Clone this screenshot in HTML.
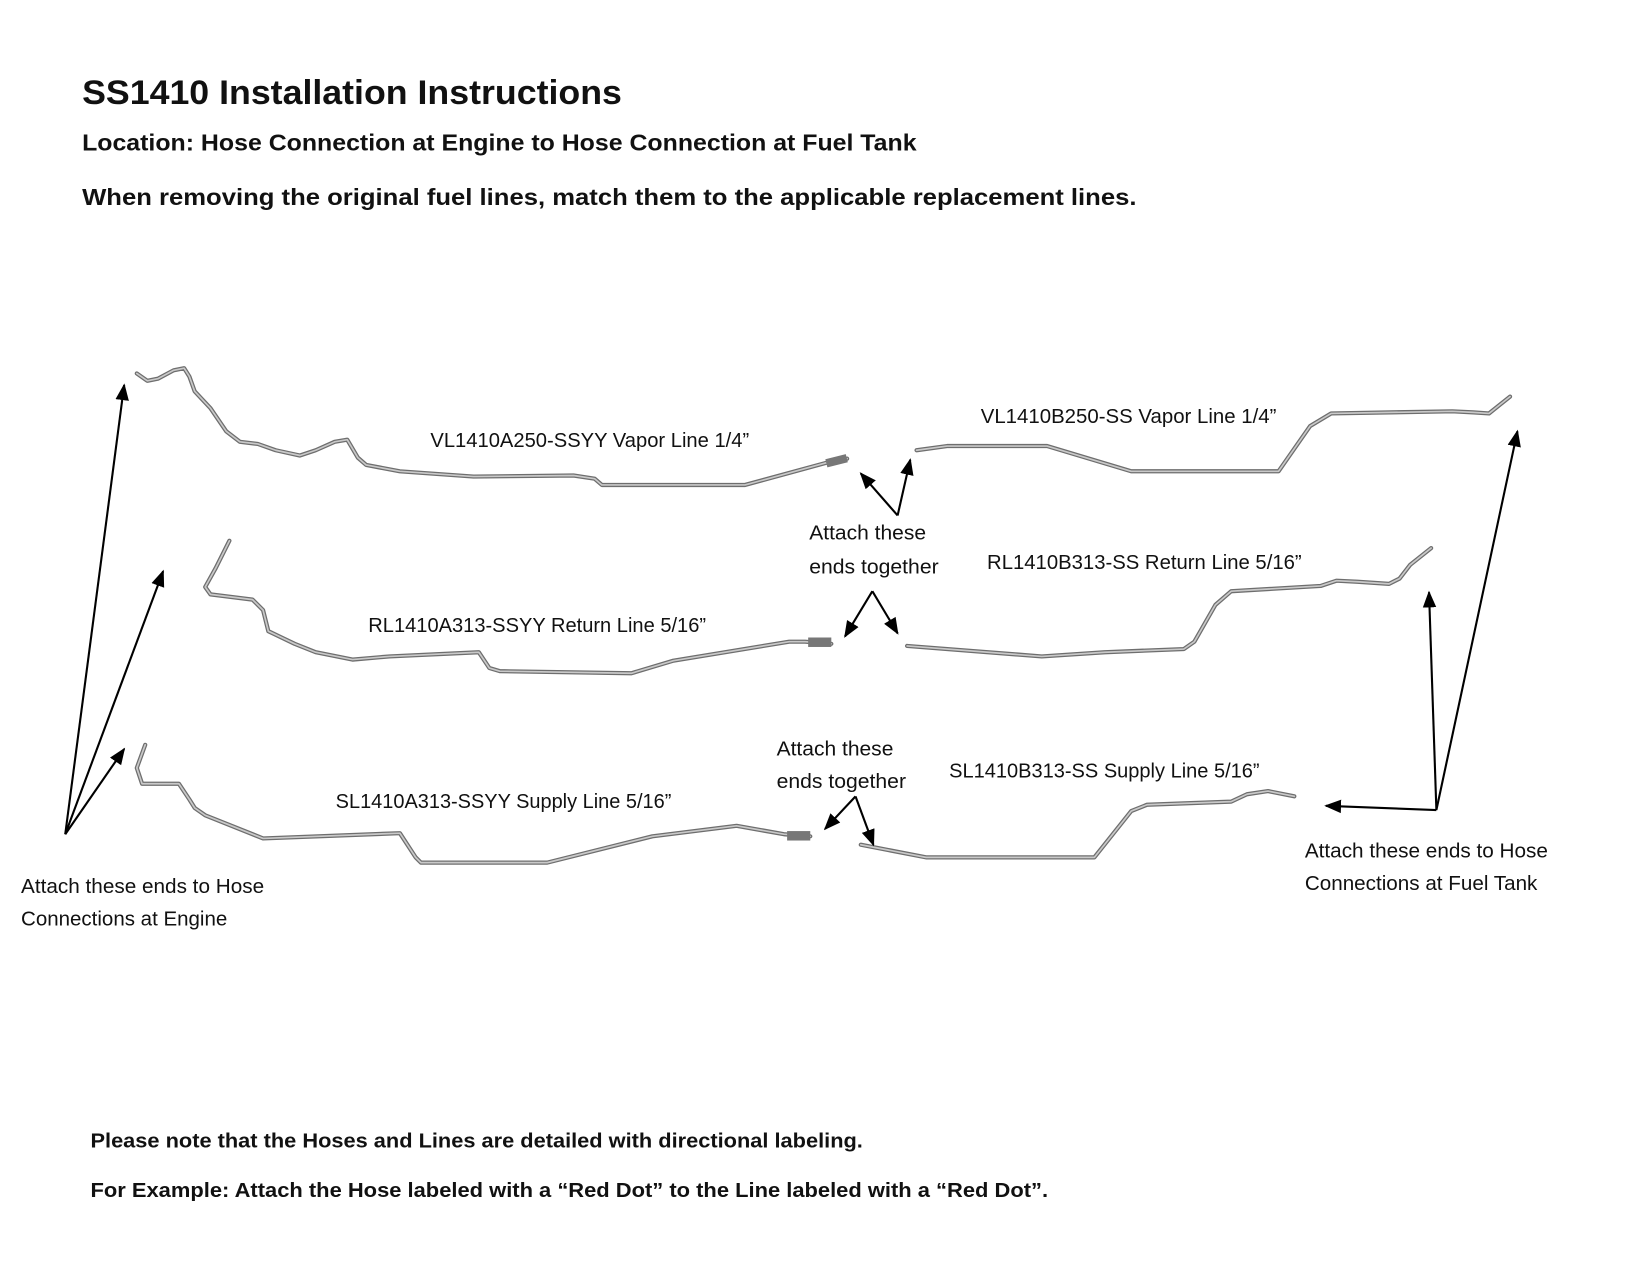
<!DOCTYPE html>
<html><head><meta charset="utf-8"><style>
html,body{margin:0;padding:0;background:#fff;}
svg{display:block;}
text{font-family:"Liberation Sans",sans-serif;fill:#111;}
.b{font-weight:bold;}
.p{fill:none;stroke:#6e6e6e;stroke-width:4;stroke-linejoin:round;stroke-linecap:round;}
.pi{fill:none;stroke:#c9c9c9;stroke-width:1.6;stroke-linejoin:round;stroke-linecap:round;}
.a{stroke:#000;stroke-width:2;fill:none;}
</style></head><body>
<svg width="1650" height="1275" viewBox="0 0 1568 1212" preserveAspectRatio="none" xmlns="http://www.w3.org/2000/svg">
<defs><marker id="ah" viewBox="0 0 10 10" refX="9" refY="5" markerWidth="8" markerHeight="8" orient="auto"><path d="M0,1 L10,5 L0,9 z" fill="#000"/></marker>
<g id="pipes" fill="none">
<polyline id="va" fill="none" points="130,355 140,362 150,360 165,352 175,350 180,358 185,372 200,388 215,410 228,420 245,422 262,428 285,433 300,428 318,420 330,418 340,435 348,442 380,448 450,453 545,452 565,455 572,461 708,461 785,440 805,436"/>
<polyline id="vb" fill="none" points="871,428 900,424 995,424 1075,448 1215,448 1245,405 1265,393 1380,391 1400,392 1415,393 1425,385 1435,377"/>
<polyline id="ra" fill="none" points="218,514 205,540 195,558 200,565 240,570 250,580 255,600 280,612 300,620 335,627 370,624 455,620 465,635 475,638 600,640 640,628 750,610 765,610 790,612"/>
<polyline id="rb" fill="none" points="862,614 990,624 1050,620 1125,617 1135,610 1155,575 1170,562 1255,557 1270,552 1290,553 1320,555 1330,550 1340,537 1360,521"/>
<polyline id="sa" fill="none" points="138,708 130,730 135,745 170,745 180,760 185,768 195,775 250,797 380,792 395,815 400,820 520,820 620,795 700,785 745,793 770,795"/>
<polyline id="sb" fill="none" points="818,803 880,815 1040,815 1075,771 1090,765 1170,762 1185,755 1205,752 1230,757"/>
</g>
</defs>
<text class="b" x="78" y="99" font-size="33" textLength="513" lengthAdjust="spacingAndGlyphs">SS1410 Installation Instructions</text>
<text class="b" x="78" y="143" font-size="22" textLength="793" lengthAdjust="spacingAndGlyphs">Location: Hose Connection at Engine to Hose Connection at Fuel Tank</text>
<text class="b" x="78" y="195" font-size="22" textLength="1002" lengthAdjust="spacingAndGlyphs">When removing the original fuel lines, match them to the applicable replacement lines.</text>
<text class="b" x="86" y="1091" font-size="19" textLength="734" lengthAdjust="spacingAndGlyphs">Please note that the Hoses and Lines are detailed with directional labeling.</text>
<text class="b" x="86" y="1138" font-size="19" textLength="910" lengthAdjust="spacingAndGlyphs">For Example: Attach the Hose labeled with a “Red Dot” to the Line labeled with a “Red Dot”.</text>

<g font-size="19">
<text x="409" y="425" textLength="303" lengthAdjust="spacingAndGlyphs">VL1410A250-SSYY Vapor Line 1/4”</text>
<text x="932" y="402" textLength="281" lengthAdjust="spacingAndGlyphs">VL1410B250-SS Vapor Line 1/4”</text>
<text x="769" y="513" textLength="111" lengthAdjust="spacingAndGlyphs">Attach these</text>
<text x="769" y="545" textLength="123" lengthAdjust="spacingAndGlyphs">ends together</text>
<text x="938" y="541" textLength="299" lengthAdjust="spacingAndGlyphs">RL1410B313-SS Return Line 5/16”</text>
<text x="350" y="601" textLength="321" lengthAdjust="spacingAndGlyphs">RL1410A313-SSYY Return Line 5/16”</text>
<text x="738" y="718" textLength="111" lengthAdjust="spacingAndGlyphs">Attach these</text>
<text x="738" y="749" textLength="123" lengthAdjust="spacingAndGlyphs">ends together</text>
<text x="902" y="739" textLength="295" lengthAdjust="spacingAndGlyphs">SL1410B313-SS Supply Line 5/16”</text>
<text x="319" y="768" textLength="319" lengthAdjust="spacingAndGlyphs">SL1410A313-SSYY Supply Line 5/16”</text>
<text x="20" y="849" textLength="231" lengthAdjust="spacingAndGlyphs">Attach these ends to Hose</text>
<text x="20" y="880" textLength="196" lengthAdjust="spacingAndGlyphs">Connections at Engine</text>
<text x="1240" y="815" textLength="231" lengthAdjust="spacingAndGlyphs">Attach these ends to Hose</text>
<text x="1240" y="846" textLength="221" lengthAdjust="spacingAndGlyphs">Connections at Fuel Tank</text>
</g>

<g class="p" fill="none"><use href="#va"/><use href="#vb"/><use href="#ra"/><use href="#rb"/><use href="#sa"/><use href="#sb"/></g>
<g class="pi" fill="none"><use href="#va"/><use href="#vb"/><use href="#ra"/><use href="#rb"/><use href="#sa"/><use href="#sb"/></g>
<g fill="#777"><rect x="785" y="434" width="20" height="8" transform="rotate(-14 795 438)"/><rect x="768" y="606" width="22" height="9"/><rect x="748" y="790" width="22" height="9"/></g>

<g class="a" marker-end="url(#ah)">
<line x1="62" y1="793" x2="118" y2="366"/>
<line x1="62" y1="793" x2="155" y2="543"/>
<line x1="62" y1="793" x2="118" y2="712"/>
<line x1="853" y1="490" x2="818" y2="450"/>
<line x1="853" y1="490" x2="865" y2="437"/>
<line x1="829" y1="562" x2="803" y2="605"/>
<line x1="829" y1="562" x2="853" y2="602"/>
<line x1="813" y1="757" x2="784" y2="788"/>
<line x1="813" y1="757" x2="830" y2="803"/>
<line x1="1365" y1="770" x2="1442" y2="410"/>
<line x1="1365" y1="770" x2="1358" y2="563"/>
<line x1="1365" y1="770" x2="1260" y2="766"/>
</g>
</svg>
</body></html>
